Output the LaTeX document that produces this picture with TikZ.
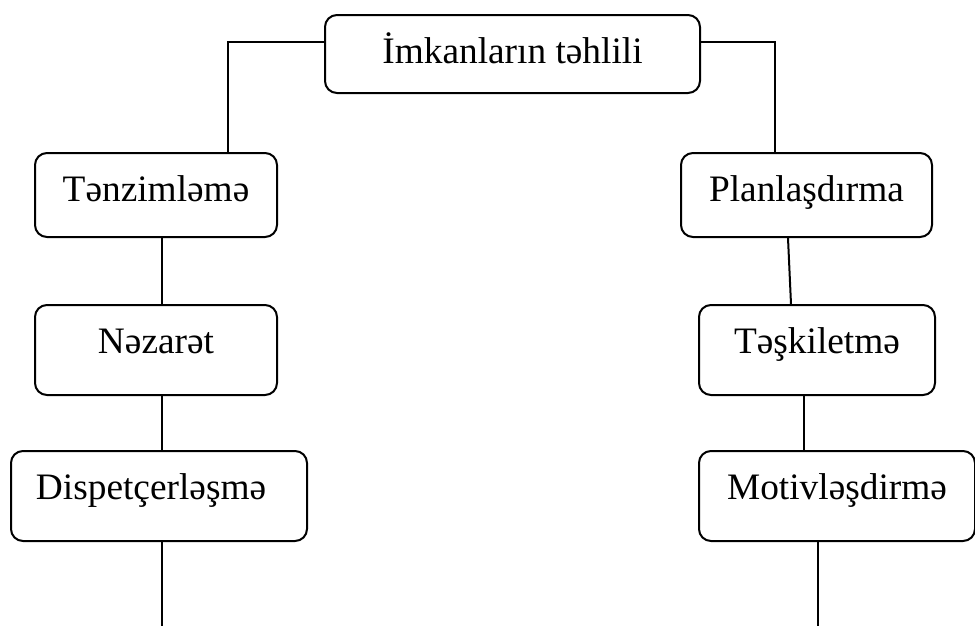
\documentclass[tikz,border=0pt]{standalone}
\usepackage{fontspec}
\setmainfont{Liberation Serif}
\usetikzlibrary{calc}
\tikzstyle{plain_box} = [
    draw=black,
    line width=1.5pt,
    rounded corners=9pt,
    anchor=north west,
    align=center,
    inner sep=0pt,
    text height=36pt, % baseline 48px below the top
    font=\fontsize{28}{34}\selectfont
]
\tikzstyle{link} = [
    line width=1.5pt
]

\begin{document}
\begin{tikzpicture}[x=0.75pt, y=-0.75pt]
\useasboundingbox (0,0) rectangle (975,626);

% top box
\node [plain_box, minimum width=281.25pt, minimum height=58.5pt, text depth=22.5pt] (top) at (324,14) {İmkanların təhlili};

% left column
\node [plain_box, minimum width=181.5pt, minimum height=63pt, text depth=27pt] (ten) at (34,152) {Tənzimləmə};
\node [plain_box, minimum width=181.5pt, minimum height=67.5pt, text depth=31.5pt] (nez) at (34,304) {Nəzarət};
\node [plain_box, minimum width=222pt, minimum height=67.5pt, text depth=31.5pt,
       inner xsep=18.75pt, text width=184.5pt, align=left] (dis) at (10,450) {Dispetçerləşmə};

% right column
\node [plain_box, minimum width=188.25pt, minimum height=63pt, text depth=27pt] (pla) at (680,152) {Planlaşdırma};
\node [plain_box, minimum width=177pt, minimum height=67.5pt, text depth=31.5pt] (tes) at (698,304) {Təşkiletmə};
\node [plain_box, minimum width=207pt, minimum height=67.5pt, text depth=31.5pt] (mot) at (698,450) {Motivləşdirmə};

\coordinate (dis_end) at (162,626);
\coordinate (mot_end) at (818,626);

\draw [link] ($(top.north west)+(0,28)$) -| ($(ten.north west)+(194,0)$);
\draw [link] ($(top.north east)+(0,28)$) -| ($(pla.north west)+(95,0)$);
\draw [link] ($(ten.south west)+(128,0)$) -- ($(nez.north west)+(128,0)$);
\draw [link] ($(nez.south west)+(128,0)$) -- ($(dis.north west)+(152,0)$);
\draw [link] ($(dis.south west)+(152,0)$) -- (dis_end);
\draw [link] ($(pla.south west)+(108,0)$) -- ($(tes.north west)+(93,0)$);
\draw [link] ($(tes.south west)+(106,0)$) -- ($(mot.north west)+(106,0)$);
\draw [link] ($(mot.south west)+(120,0)$) -- (mot_end);
\end{tikzpicture}
\end{document}
